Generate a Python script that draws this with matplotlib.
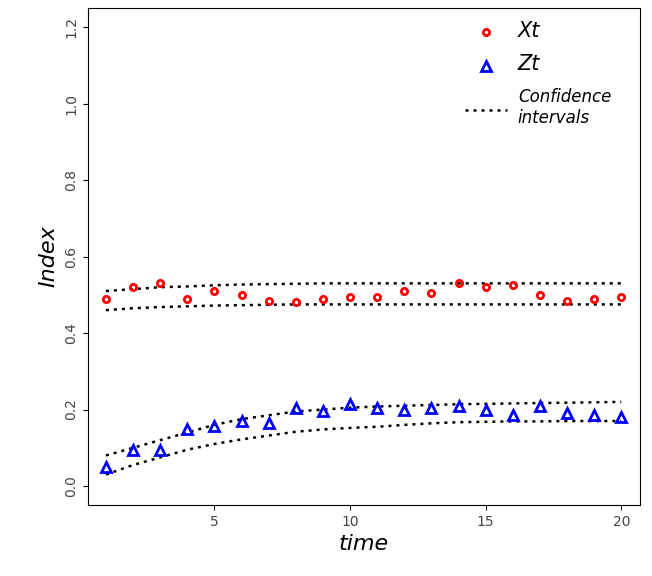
import numpy as np
import matplotlib.pyplot as plt

t = np.arange(1, 21)
xt = [0.49, 0.52, 0.53, 0.49, 0.51, 0.50, 0.485, 0.48, 0.49, 0.495,
      0.495, 0.51, 0.505, 0.53, 0.52, 0.525, 0.50, 0.485, 0.49, 0.495]
zt = [0.05, 0.095, 0.095, 0.15, 0.157, 0.17, 0.165, 0.205, 0.195, 0.215,
      0.205, 0.20, 0.205, 0.21, 0.20, 0.185, 0.21, 0.19, 0.185, 0.18]
xt_up = [0.51, 0.515, 0.52, 0.522, 0.525, 0.527, 0.528, 0.529, 0.53, 0.53,
         0.53, 0.53, 0.53, 0.53, 0.53, 0.53, 0.53, 0.53, 0.53, 0.53]
xt_lo = [0.46, 0.465, 0.468, 0.47, 0.472, 0.473, 0.474, 0.475, 0.475, 0.475,
         0.475, 0.475, 0.475, 0.475, 0.475, 0.475, 0.475, 0.475, 0.475, 0.475]
zt_up = [0.08, 0.10, 0.12, 0.14, 0.16, 0.175, 0.185, 0.195, 0.20, 0.205,
         0.208, 0.21, 0.212, 0.214, 0.215, 0.216, 0.217, 0.218, 0.219, 0.22]
zt_lo = [0.03, 0.055, 0.075, 0.095, 0.11, 0.122, 0.132, 0.142, 0.148, 0.152,
         0.155, 0.16, 0.164, 0.167, 0.168, 0.169, 0.169, 0.17, 0.17, 0.17]

fig = plt.figure(figsize=(6.52, 5.76), dpi=100)
ax = fig.add_axes([0.135, 0.123, 0.847, 0.863])

for up, lo in [(xt_up, xt_lo), (zt_up, zt_lo)]:
    ax.plot(t, up, color='black', linestyle=(0, (1.2, 2)), linewidth=1.8)
    ax.plot(t, lo, color='black', linestyle=(0, (1.2, 2)), linewidth=1.8)
ax.plot(t, xt, 'o', mfc='none', mec='red', mew=2, ms=4.5, label='Xt')
ax.plot(t, zt, '^', mfc='none', mec='blue', mew=2, ms=6.5, label='Zt')
ax.plot([], [], color='black', linestyle=(0, (1.2, 2)), linewidth=1.8,
        label='Confidence\nintervals')

ax.set_xlim(0.34, 20.7)
ax.set_ylim(-0.05, 1.25)
ax.set_xticks([5, 10, 15, 20])
ax.set_yticks(np.arange(0, 1.21, 0.2))
ax.set_yticklabels([f'{v:.1f}' for v in np.arange(0, 1.21, 0.2)], rotation=90, va='center')
ax.tick_params(labelsize=10, labelcolor='#444444')
ax.set_xlabel('time', fontsize=16, style='italic')
ax.set_ylabel('Index', fontsize=16, style='italic')

leg = ax.legend(loc='upper right', frameon=False, labelspacing=1.0,
                handlelength=3, bbox_to_anchor=(0.97, 1.0))
for txt, fs in zip(leg.get_texts(), [15, 15, 12]):
    txt.set_fontsize(fs)
    txt.set_style('italic')

fig.savefig('out.png', dpi=100)
